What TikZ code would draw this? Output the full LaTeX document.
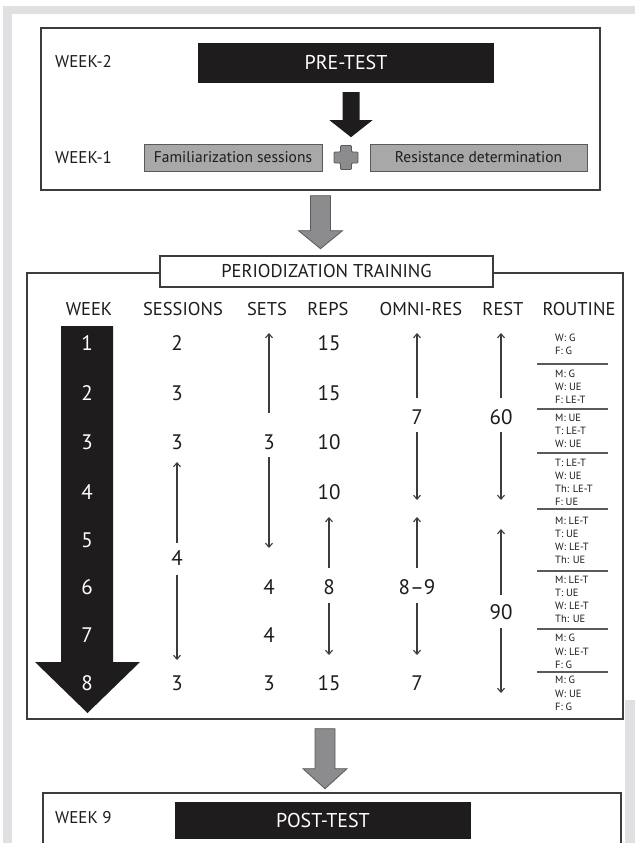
\documentclass[tikz,border=0pt]{standalone}
\usepackage{fontspec}
\setmainfont{PT Sans}
\usepackage{tikz}
\usetikzlibrary{arrows.meta, positioning, calc}
\definecolor{framegrey}{RGB}{224, 224, 226}
\definecolor{boxgrey}{RGB}{168, 168, 168}
\definecolor{arrowgrey}{RGB}{140, 140, 142}
\definecolor{edgegrey}{RGB}{90, 90, 90}
\definecolor{inkblack}{RGB}{30, 28, 29}
\definecolor{linegrey}{RGB}{60, 60, 60}

\begin{document}
\begin{tikzpicture}[x=1pt, y=-1pt,
  outer/.style={draw=linegrey, line width=1.4pt, inner sep=0pt},
  blackbox/.style={fill=inkblack, text=white, minimum width=296pt, font=\fontsize{20}{24}\selectfont},
  greybox/.style={draw=edgegrey, fill=boxgrey, line width=0.9pt, minimum height=27pt, inner sep=0pt, text=inkblack, font=\fontsize{15.5}{18}\selectfont},
  weeklbl/.style={anchor=west, inner sep=0pt, text=inkblack, font=\fontsize{17}{20}\selectfont},
  hdr/.style={text=inkblack, font=\fontsize{18.5}{22}\selectfont},
  val/.style={text=inkblack, font=\fontsize{21}{24}\selectfont},
  wknum/.style={text=white, font=\fontsize{21}{24}\selectfont},
  rt/.style={anchor=west, align=left, inner sep=0pt, text=inkblack, font=\fontsize{10.5}{13.2}\selectfont},
  updn/.style={draw=linegrey, line width=1.1pt, -{Straight Barb[length=4pt, width=7pt]}},
  blockgrey/.style={fill=arrowgrey, draw=edgegrey, line width=0.8pt},
  sepline/.style={draw=edgegrey, line width=1.1pt}]

  \useasboundingbox (0,0) rectangle (635,843);
  \fill[white] (0,0) rectangle (635,843);
  \fill[framegrey] (3,6) rectangle (635,14);
  \fill[framegrey] (3,6) rectangle (12,843);
  \fill[framegrey] (625,700) rectangle (635,843);

  % pre-test weeks
  \node[outer, minimum width=559pt, minimum height=162pt] (top) at (320.5,109) {};
  \node[weeklbl] (wm2) at (55,62) {WEEK-2};
  \node[blackbox, minimum height=40pt] (pre) at (346,63) {PRE-TEST};
  \node[weeklbl] (wm1) at (55,158) {WEEK-1};
  \node[greybox, minimum width=178pt] (fam) at (233,157.5) {Familiarization sessions};
  \node[greybox, minimum width=217pt] (res) at (478.5,157.5) {Resistance determination};
  \coordinate (plus) at ($(fam.east)!0.5!(res.west)$);
  \draw[blockgrey, rounded corners=1pt] (plus) ++(-5.5,-12) -- ++(11,0) -- ++(0,6.5) -- ++(6.5,0) -- ++(0,11) -- ++(-6.5,0) -- ++(0,6.5) -- ++(-11,0) -- ++(0,-6.5) -- ++(-6.5,0) -- ++(0,-11) -- ++(6.5,0) -- cycle;
  \fill[inkblack] ($(pre.south)+(-3.5,9)$) -- ++(17,0) -- ++(0,28) -- ++(13,0) -- ++(-21.5,17) -- ++(-21.5,-17) -- ++(13,0) -- cycle;

  \draw[blockgrey] ($(top.south)+(-10,5)$) -- ++(20,0) -- ++(0,35) -- ++(12,0) -- ++(-22,18) -- ++(-22,-18) -- ++(12,0) -- cycle;

  % training block
  \node[outer, minimum width=596pt, minimum height=446pt] (train) at (325,496) {};
  \node[draw=linegrey, line width=1.4pt, fill=white, minimum width=333pt, minimum height=31pt, inner sep=0pt, hdr] (per) at (326.5,271.5) {PERIODIZATION TRAINING};

  \node[hdr] (hweek) at (89,309) {WEEK};
  \node[hdr] (hses) at (183,309) {SESSIONS};
  \node[hdr] (hsets) at (267,309) {SETS};
  \node[hdr] (hreps) at (328,309) {REPS};
  \node[hdr] (homni) at (421,309) {OMNI-RES};
  \node[hdr] (hrest) at (503,309) {REST};
  \node[hdr] (hrout) at (579,309) {ROUTINE};

  \fill[inkblack] (61,326) -- (113,326) -- (113,662) -- (140,662) -- (87.5,713) -- (35,662) -- (61,662) -- cycle;
  \node[wknum] (wk1) at (87,343) {1};
  \node[wknum] (wk2) at (87,393) {2};
  \node[wknum] (wk3) at (87,442) {3};
  \node[wknum] (wk4) at (87,492) {4};
  \node[wknum] (wk5) at (87,540) {5};
  \node[wknum] (wk6) at (87,587) {6};
  \node[wknum] (wk7) at (87,635) {7};
  \node[wknum] (wk8) at (87,683) {8};

  \node[val] (ses1) at (177,343) {2};
  \node[val] (ses2) at (177,393) {3};
  \node[val] (ses3) at (177,442) {3};
  \node[val] (ses4) at (177,558) {4};
  \node[val] (ses8) at (177,683) {3};
  \draw[updn] (177,543) -- (177,462);
  \draw[updn] (177,575) -- (177,660);

  \node[val] (set3) at (269,442) {3};
  \node[val] (set6) at (269,587) {4};
  \node[val] (set7) at (269,635) {4};
  \node[val] (set8) at (269,683) {3};
  \draw[updn] (269,413) -- (269,333);
  \draw[updn] (269,457) -- (269,548);

  \node[val] (rep1) at (329,343) {15};
  \node[val] (rep2) at (329,393) {15};
  \node[val] (rep3) at (329,442) {10};
  \node[val] (rep4) at (329,492) {10};
  \node[val] (rep6) at (329,587) {8};
  \node[val] (rep8) at (329,683) {15};
  \draw[updn] (329,568) -- (329,517);
  \draw[updn] (329,603) -- (329,655);

  \node[val] (omA) at (417,417) {7};
  \node[val] (omB) at (417,587) {8--9};
  \node[val] (omC) at (417,683) {7};
  \draw[updn] (417,398) -- (417,333);
  \draw[updn] (417,432) -- (417,500);
  \draw[updn] (417,568) -- (417,517);
  \draw[updn] (417,603) -- (417,655);

  \node[val] (restA) at (501,417) {60};
  \node[val] (restB) at (501,612) {90};
  \draw[updn] (501,398) -- (501,333);
  \draw[updn] (501,432) -- (501,500);
  \draw[updn] (501,595) -- (501,529);
  \draw[updn] (501,628) -- (501,693);

  \node[rt] (r1) at (555,344.5) {W: G\\F: G};
  \node[rt] (r2) at (555,387) {M: G\\W: UE\\F: LE-T};
  \node[rt] (r3) at (555,431) {M: UE\\T: LE-T\\W: UE};
  \node[rt] (r4) at (555,482.5) {T: LE-T\\W: UE\\Th: LE-T\\F: UE};
  \node[rt] (r5) at (555,540.5) {M: LE-T\\T: UE\\W: LE-T\\Th: UE};
  \node[rt] (r6) at (555,599.5) {M: LE-T\\T: UE\\W: LE-T\\Th: UE};
  \node[rt] (r7) at (555,651.5) {M: G\\W: LE-T\\F: G};
  \node[rt] (r8) at (555,693.5) {M: G\\W: UE\\F: G};
  \draw[sepline] (537,364) -- (608,364);
  \draw[sepline] (537,409) -- (608,409);
  \draw[sepline] (537,453) -- (608,453);
  \draw[sepline] (537,509) -- (608,509);
  \draw[sepline] (537,571) -- (608,571);
  \draw[sepline] (537,629) -- (608,629);
  \draw[sepline] (537,672) -- (608,672);

  \draw[blockgrey] ($(train.south)+(-10,9)$) -- ++(20,0) -- ++(0,40) -- ++(12,0) -- ++(-22,20) -- ++(-22,-20) -- ++(12,0) -- cycle;

  % post-test week
  \draw[outer] (43,843) -- (43,793) -- (621,793) -- (621,843);
  \node[weeklbl] (w9) at (55,818) {WEEK 9};
  \node[blackbox, minimum height=37pt] (post) at (323,820.5) {POST-TEST};
\end{tikzpicture}
\end{document}
